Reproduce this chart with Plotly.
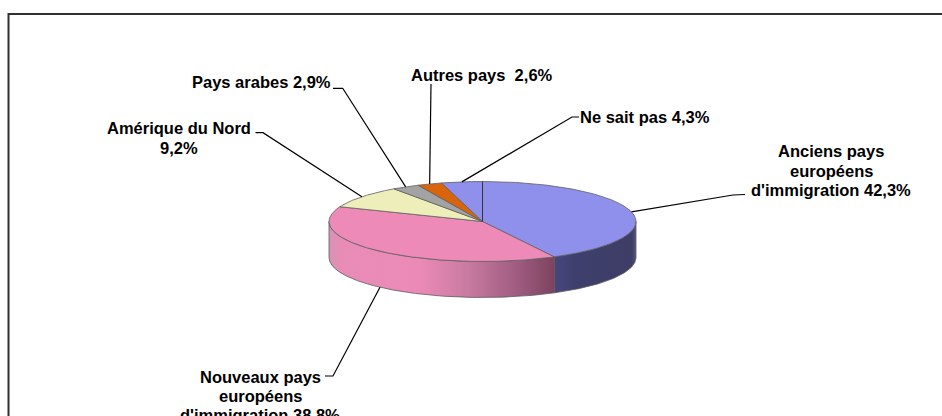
import numpy as np
import plotly.graph_objects as go

categories = ["Anciens pays européens d'immigration", "Nouveaux pays européens d'immigration",
              "Amérique du Nord", "Pays arabes", "Autres pays", "Ne sait pas"]
values = [42.3, 38.8, 9.2, 2.9, 2.6, 4.3]
top_colors = ["#8f8fec", "#ee8ab8", "#eeeebb", "#a3a3a3", "#d9640c", "#8f8fec"]
side_scales = {
    0: [[0, "#47477f"], [0.25, "#3f3f6e"], [0.95, "#3d3d66"], [1, "#55557a"]],
    1: [[0, "#d893b2"], [0.06, "#e88cb6"], [0.4, "#ec8ab7"], [0.62, "#c87aa0"],
        [0.85, "#9c5a7e"], [1, "#7e425f"]],
}
label_lines = [
    ["Anciens pays", "européens", "d'immigration 42,3%"],
    ["Nouveaux pays", "européens", "d'immigration 38,8%"],
    ["Amérique du Nord", "9,2%"],
    ["Pays arabes 2,9%"],
    ["Autres pays  2,6%"],
    ["Ne sait pas 4,3%"],
]

# layout constants (pixel space of the page)
W, H = 942, 416
CX, CY, RX, RY, DEPTH = 482.5, 221.5, 153.5, 40.0, 36.0
label_pos = [(831, [151, 171, 190]), (260, [376.5, 395.5, 415]), (179, [128, 147.5]),
             (261, [82]), (482, [75]), (645, [117])]
elbows = [
    [(733, 195), (745, 194.5)],
    [(333, 376), (325, 376)],
    [(263, 132.7), (255.5, 132.7)],
    [(342.7, 88.3), (333, 88.3)],
    [(431, 84)],
    [(572, 117), (579, 117)],
]


def pt(deg, drop=0.0):
    t = np.radians(deg)
    return CX + RX * np.sin(t), CY - RY * np.cos(t) + drop


def arc(a, b, drop=0.0):
    n = max(2, int(abs(b - a)) * 2 + 2)
    xs, ys = pt(np.linspace(a, b, n), drop)
    return list(xs), list(ys)


total = sum(values)
edges = np.concatenate([[0], np.cumsum(values)]) / total * 360
fig = go.Figure()

# visible side walls
for i, v in enumerate(values):
    a, b = max(edges[i], 90), min(edges[i + 1], 270)
    if b <= a:
        continue
    x1, y1 = arc(a, b)
    x2, y2 = arc(b, a, DEPTH)
    fig.add_trace(go.Scatter(
        x=x1 + x2 + x1[:1], y=y1 + y2 + y1[:1], mode="lines", fill="toself",
        fillgradient=dict(type="horizontal", colorscale=side_scales[i]),
        line=dict(color="#5a5a5a", width=0.8), name=categories[i], hoverinfo="skip"))

# top faces
for i, v in enumerate(values):
    xa, ya = arc(edges[i], edges[i + 1])
    fig.add_trace(go.Scatter(
        x=[CX] + xa + [CX], y=[CY] + ya + [CY], mode="lines", fill="toself",
        fillcolor=top_colors[i], line=dict(color="#5f5f5f", width=0.8),
        name=categories[i], hoverinfo="skip"))

# dark radial at twelve o'clock
x0, y0 = pt(0.0)
fig.add_trace(go.Scatter(x=[CX, x0], y=[CY, y0], mode="lines",
                         line=dict(color="#333333", width=1), hoverinfo="skip"))

# leader lines, anchored at each slice's mid-angle
annotations = []
for i, v in enumerate(values):
    mid = (edges[i] + edges[i + 1]) / 2
    sx, sy = pt(mid, DEPTH if 90 < mid < 270 and i == 1 else 0.0)
    xs = [sx] + [p[0] for p in elbows[i]]
    ys = [sy] + [p[1] for p in elbows[i]]
    fig.add_trace(go.Scatter(x=xs, y=ys, mode="lines",
                             line=dict(color="#000000", width=1.2), hoverinfo="skip"))
    lx, lys = label_pos[i]
    for line, ly in zip(label_lines[i], lys):
        annotations.append(dict(x=lx, y=ly, xref="x", yref="y", text=f"<b>{line}</b>",
                                showarrow=False, xanchor="center", yanchor="middle",
                                font=dict(family="Liberation Sans", size=16.5, color="#000000")))

# chart frame: only left and top edges are visible
fig.add_trace(go.Scatter(x=[8.5, 8.5, W], y=[H, 14, 14], mode="lines",
                         line=dict(color="#303030", width=2), hoverinfo="skip"))

fig.update_layout(
    width=W, height=H, margin=dict(l=0, r=0, t=0, b=0), showlegend=False,
    paper_bgcolor="white", plot_bgcolor="white", annotations=annotations,
    xaxis=dict(range=[0, W], visible=False, fixedrange=True),
    yaxis=dict(range=[H, 0], visible=False, fixedrange=True),
)
fig.write_html("out.html", post_script="document.body.style.margin='0';",
               config=dict(displayModeBar=False))
